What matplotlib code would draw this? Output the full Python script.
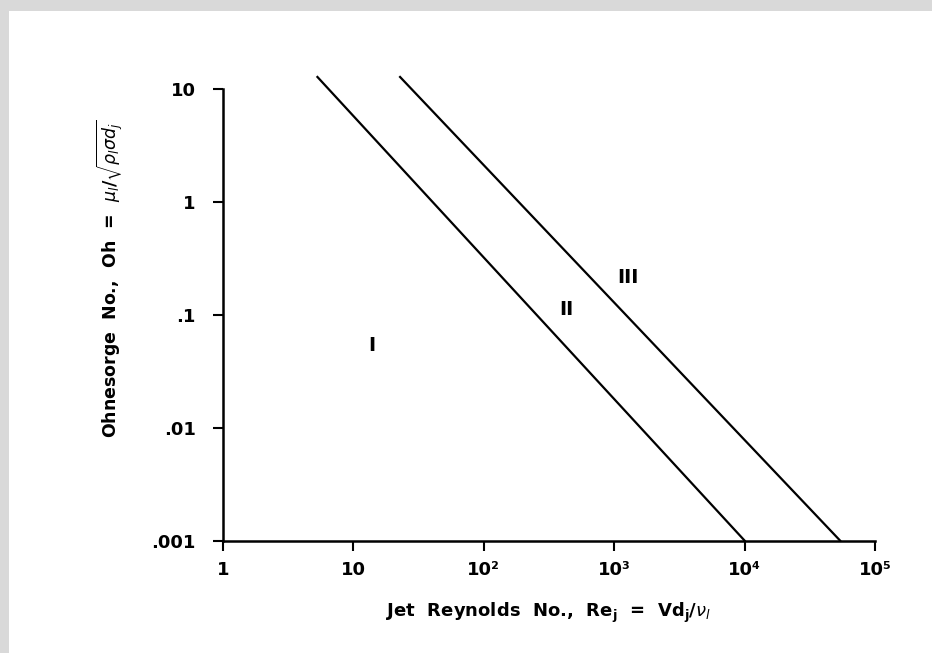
import matplotlib
matplotlib.use("Agg")
import matplotlib.pyplot as plt
from matplotlib.patches import Rectangle

# Data
line_ii_re = [5.3, 1.0e4]
line_ii_oh = [12.7, 0.001]
line_iii_re = [22.8, 5.4e4]
line_iii_oh = [12.7, 0.001]
region_labels = ["I", "II", "III"]
region_re = [13.9, 430, 1280]
region_oh = [0.053, 0.11, 0.215]
xticks = [1, 10, 1e2, 1e3, 1e4, 1e5]
xticklabels = ["1", "10", "10²", "10³", "10⁴", "10⁵"]
yticks = [0.001, 0.01, 0.1, 1, 10]
yticklabels = [".001", ".01", ".1", "1", "10"]

plt.rcParams['font.family'] = ['DejaVu Sans']
plt.rcParams['mathtext.fontset'] = 'dejavusans'
plt.rcParams['mathtext.default'] = 'bf'

fig = plt.figure(figsize=(9.32, 6.53), dpi=100, facecolor='#d9d9d9')
fig.patches.append(Rectangle((9/932, 0), 1 - 9/932, 1 - 11/653,
                             transform=fig.transFigure, facecolor='white',
                             edgecolor='none', zorder=-10))

ax = fig.add_axes([223/932, 1 - 540.6/653, (875 - 223)/932, (540.6 - 88.7)/653])
ax.set_facecolor('none')
ax.set_xscale('log')
ax.set_yscale('log')
ax.set_xlim(1, 1e5)
ax.set_ylim(0.001, 10)

ax.plot(line_ii_re, line_ii_oh, color='black', lw=1.6, clip_on=False)
ax.plot(line_iii_re, line_iii_oh, color='black', lw=1.6, clip_on=False)

for lab, x, y in zip(region_labels, region_re, region_oh):
    ax.text(x, y, lab, fontsize=14, fontweight='bold', ha='center', va='center')

for s in ['top', 'right']:
    ax.spines[s].set_visible(False)
for s in ['left', 'bottom']:
    ax.spines[s].set_linewidth(1.8)

ax.set_xticks(xticks)
ax.set_xticklabels(xticklabels, fontsize=13, fontweight='bold')
ax.set_yticks(yticks)
ax.set_yticklabels(yticklabels, fontsize=13, fontweight='bold')
ax.minorticks_off()
ax.tick_params(axis='both', direction='out', length=7.5, width=1.5)
ax.tick_params(axis='y', pad=12)
ax.tick_params(axis='x', pad=7)

ax.set_xlabel(r"Jet  Reynolds  No.,  Re$_j$  =  Vd$_j$/$\mathit{\nu_l}$",
              fontsize=13, fontweight='bold', labelpad=16)
ax.set_ylabel(r"Ohnesorge  No.,  Oh  =  $\mathit{\mu_l}/\sqrt{\mathit{\rho_l\sigma d_j}}$",
              fontsize=12.5, fontweight='bold')
ax.yaxis.set_label_coords(-0.15, 0.58)

fig.savefig('out.png', dpi=100, facecolor=fig.get_facecolor())
